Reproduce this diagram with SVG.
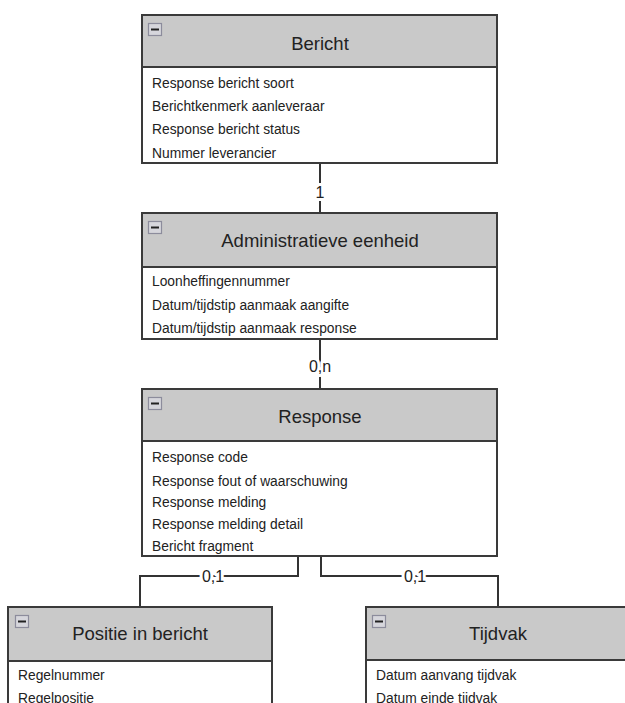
<svg xmlns="http://www.w3.org/2000/svg" xmlns:xlink="http://www.w3.org/1999/xlink" width="625" height="703" viewBox="0 0 625 703">
<style>
.box{fill:#ffffff;stroke:#3a3a3a;stroke-width:2}
.hdr{fill:#c9c9c9;stroke:#3a3a3a;stroke-width:2}
.title{font-family:"Liberation Sans",Arial,sans-serif;font-size:18.5px;fill:#222;text-anchor:middle}
.row{font-family:"Liberation Sans",Arial,sans-serif;font-size:13.8px;fill:#222}
.lbl{font-family:"Liberation Sans",Arial,sans-serif;font-size:16px;fill:#222;text-anchor:middle;stroke:#fff;stroke-width:6px;paint-order:stroke;stroke-linejoin:round}
.conn{fill:none;stroke:#333;stroke-width:2}
</style>
<defs>
<g id="minus">
<rect x="0.5" y="0.5" width="13" height="12" fill="#d6d6dc" stroke="#8c8c9c" stroke-width="1.2"/>
<line x1="3" y1="6.5" x2="11" y2="6.5" stroke="#222" stroke-width="2"/>
</g>
</defs>
<rect width="625" height="703" fill="#fff"/>
<g id="connectors">
<path class="conn" d="M320,163 V213"/>
<text class="lbl" x="320" y="198">1</text>
<path class="conn" d="M320,339 V389"/>
<text class="lbl" x="320" y="372">0,n</text>
<path class="conn" d="M298,556 V576 H140 V607"/>
<text class="lbl" x="213" y="582">0,1</text>
<path class="conn" d="M321,556 V576 H498 V607"/>
<text class="lbl" x="415" y="582">0,1</text>
</g>
<g id="bericht">
<rect class="box" x="142" y="15" width="355" height="148"/>
<rect class="hdr" x="142" y="15" width="355" height="52"/>
<use xlink:href="#minus" x="148" y="23"/>
<text class="title" x="320" y="50">Bericht</text>
<text class="row" x="152" y="88">Response bericht soort</text>
<text class="row" x="152" y="111">Berichtkenmerk aanleveraar</text>
<text class="row" x="152" y="134">Response bericht status</text>
<text class="row" x="152" y="158">Nummer leverancier</text>
</g>
<g id="administratieve-eenheid">
<rect class="box" x="142" y="213" width="355" height="126"/>
<rect class="hdr" x="142" y="213" width="355" height="54"/>
<use xlink:href="#minus" x="148" y="221"/>
<text class="title" x="320" y="247">Administratieve eenheid</text>
<text class="row" x="152" y="286">Loonheffingennummer</text>
<text class="row" x="152" y="310">Datum/tijdstip aanmaak aangifte</text>
<text class="row" x="152" y="333">Datum/tijdstip aanmaak response</text>
</g>
<g id="response">
<rect class="box" x="142" y="389" width="355" height="167"/>
<rect class="hdr" x="142" y="389" width="355" height="52"/>
<use xlink:href="#minus" x="148" y="397"/>
<text class="title" x="320" y="423">Response</text>
<text class="row" x="152" y="462">Response code</text>
<text class="row" x="152" y="486">Response fout of waarschuwing</text>
<text class="row" x="152" y="507">Response melding</text>
<text class="row" x="152" y="529">Response melding detail</text>
<text class="row" x="152" y="551">Bericht fragment</text>
</g>
<g id="positie-in-bericht">
<rect class="box" x="8" y="607" width="264" height="120"/>
<rect class="hdr" x="8" y="607" width="264" height="54"/>
<use xlink:href="#minus" x="15" y="615"/>
<text class="title" x="140" y="640">Positie in bericht</text>
<text class="row" x="18" y="680">Regelnummer</text>
<text class="row" x="18" y="703">Regelpositie</text>
</g>
<g id="tijdvak">
<rect class="box" x="366" y="607" width="264" height="120"/>
<rect class="hdr" x="366" y="607" width="264" height="53"/>
<use xlink:href="#minus" x="372" y="615"/>
<text class="title" x="498" y="640">Tijdvak</text>
<text class="row" x="376" y="680">Datum aanvang tijdvak</text>
<text class="row" x="376" y="703">Datum einde tijdvak</text>
</g>
</svg>
